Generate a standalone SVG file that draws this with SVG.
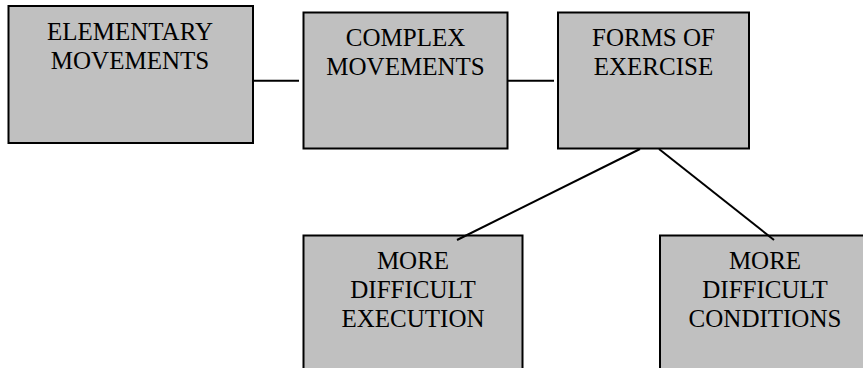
<svg xmlns="http://www.w3.org/2000/svg" width="863" height="368" viewBox="0 0 863 368">
<style>
.box{fill:#c0c0c0;stroke:#000;stroke-width:2}
.lbl{font-family:'Liberation Serif','Times New Roman','DejaVu Serif',serif;font-size:25px;fill:#000;text-anchor:middle}
.con{stroke:#000;stroke-width:2;fill:none}
</style>
<rect width="863" height="368" fill="#fff"/>
<g id="n1">
<rect class="box" x="8.5" y="6" width="244.5" height="137"/>
<text class="lbl" x="130" y="40">ELEMENTARY</text>
<text class="lbl" x="130" y="69">MOVEMENTS</text>
</g>
<g id="n2">
<rect class="box" x="303.5" y="12.5" width="204" height="136"/>
<text class="lbl" x="405.5" y="46">COMPLEX</text>
<text class="lbl" x="405.5" y="75">MOVEMENTS</text>
</g>
<g id="n3">
<rect class="box" x="558" y="12.5" width="191" height="136"/>
<text class="lbl" x="653.5" y="46">FORMS OF</text>
<text class="lbl" x="653.5" y="75">EXERCISE</text>
</g>
<g id="n4">
<rect class="box" x="303.5" y="235.5" width="219" height="145"/>
<text class="lbl" x="413" y="269">MORE</text>
<text class="lbl" x="413" y="298">DIFFICULT</text>
<text class="lbl" x="413" y="327">EXECUTION</text>
</g>
<g id="n5">
<rect class="box" x="660" y="235.5" width="210" height="145"/>
<text class="lbl" x="765" y="269">MORE</text>
<text class="lbl" x="765" y="298">DIFFICULT</text>
<text class="lbl" x="765" y="327">CONDITIONS</text>
</g>
<g id="connectors">
<line class="con" x1="253" y1="80.7" x2="299" y2="80.7"/>
<line class="con" x1="508" y1="80.7" x2="554" y2="80.7"/>
<line class="con" x1="640" y1="149" x2="457" y2="240"/>
<line class="con" x1="659" y1="149" x2="774" y2="240"/>
</g>
</svg>
